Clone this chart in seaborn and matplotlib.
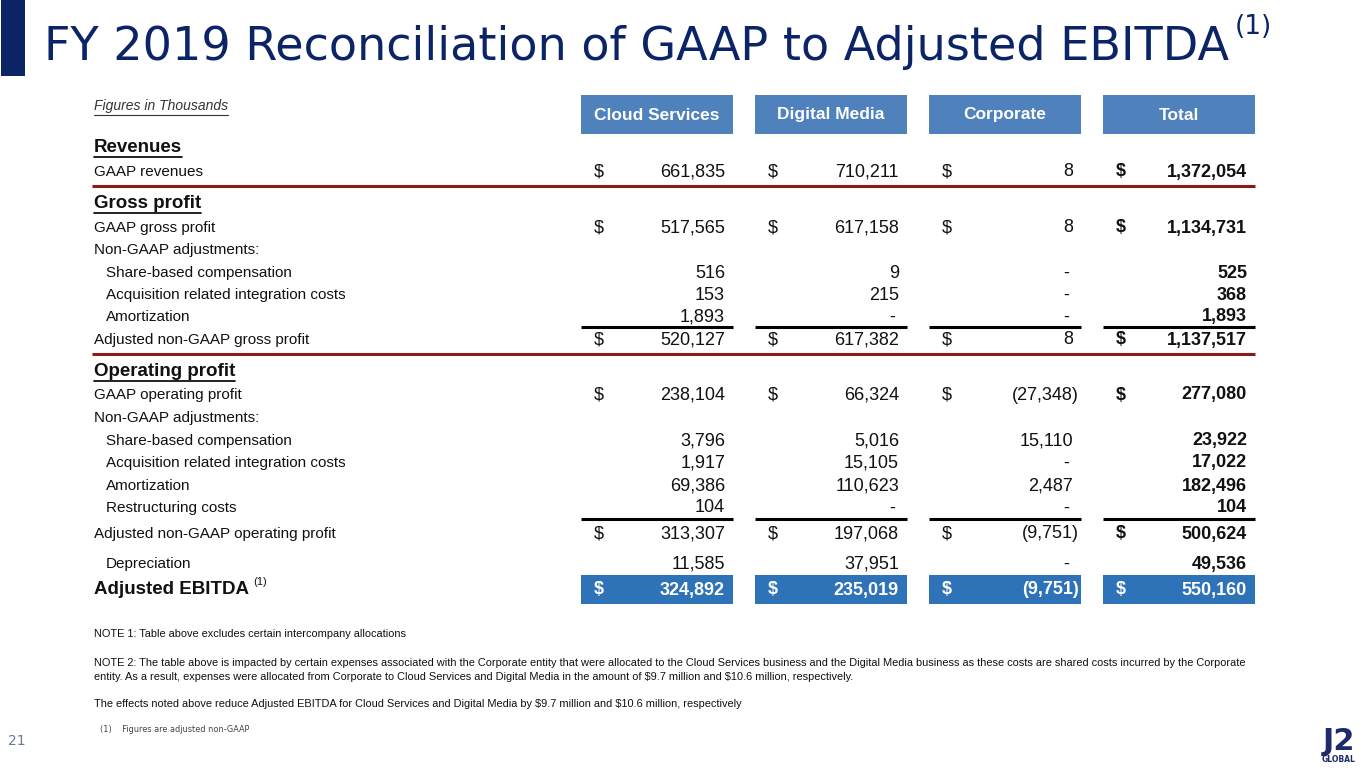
import matplotlib
matplotlib.use("Agg")
import matplotlib.pyplot as plt
import seaborn as sns
from matplotlib.patches import Rectangle

# datos de la tabla (miles de USD)
columnas = ["Cloud Services", "Digital Media", "Corporate", "Total"]

filas = ["Revenues", "GAAP revenues", "Gross profit", "GAAP gross profit",
         "Non-GAAP adjustments:", "Share-based compensation",
         "Acquisition related integration costs", "Amortization",
         "Adjusted non-GAAP gross profit", "Operating profit",
         "GAAP operating profit", "Non-GAAP adjustments:",
         "Share-based compensation", "Acquisition related integration costs",
         "Amortization", "Restructuring costs",
         "Adjusted non-GAAP operating profit", "Depreciation", "Adjusted EBITDA"]

cloud_services = [None, 661835, None, 517565, None, 516, 153, 1893, 520127, None,
                  238104, None, 3796, 1917, 69386, 104, 313307, 11585, 324892]
digital_media = [None, 710211, None, 617158, None, 9, 215, 0, 617382, None,
                 66324, None, 5016, 15105, 110623, 0, 197068, 37951, 235019]
corporate = [None, 8, None, 8, None, 0, 0, 0, 8, None,
             -27348, None, 15110, 0, 2487, 0, -9751, 0, -9751]
total = [None, 1372054, None, 1134731, None, 525, 368, 1893, 1137517, None,
         277080, None, 23922, 17022, 182496, 104, 500624, 49536, 550160]

secciones = ["Revenues", "Gross profit", "Operating profit"]
filas_dolar = ["GAAP revenues", "GAAP gross profit", "Adjusted non-GAAP gross profit",
               "GAAP operating profit", "Adjusted non-GAAP operating profit", "Adjusted EBITDA"]
sangria = ["Share-based compensation", "Acquisition related integration costs",
           "Amortization", "Restructuring costs", "Depreciation"]

notas = [
    "NOTE 1: Table above excludes certain intercompany allocations",
    "NOTE 2: The table above is impacted by certain expenses associated with the Corporate entity that were allocated to the Cloud Services business and the Digital Media business as these costs are shared costs incurred by the Corporate",
    "entity. As a result, expenses were allocated from Corporate to Cloud Services and Digital Media in the amount of $9.7 million and $10.6 million, respectively.",
    "The effects noted above reduce Adjusted EBITDA for Cloud Services and Digital Media by $9.7 million and $10.6 million, respectively",
]

# posiciones (pixeles)
y_filas = [147, 172, 203, 228, 250, 273, 295, 317, 340, 371, 395, 418,
           441, 463, 486, 508, 534, 564, 590]
col_izq = [581, 755, 929, 1103]
ancho_col = 152
y_notas = [634, 663, 677, 704]

sns.set_theme(style="white")
plt.rcParams['font.family'] = ['Liberation Sans', 'DejaVu Sans']

fig = plt.figure(figsize=(13.65, 7.68), dpi=100)
ax = fig.add_axes([0, 0, 1, 1])
ax.set_xlim(0, 1365)
ax.set_ylim(768, 0)
ax.axis("off")

azul_marino = "#0b2466"
azul_cab = "#4f81bd"
azul_ebitda = "#2e72b8"
rojo = "#8b1a1a"
negro = "#111111"


def texto(x, y, s, **kw):
    return ax.text(x, y, s, parse_math=False, **kw)


def subrayar(t, dy=3, lw=1.0, color=negro):
    fig.canvas.draw()
    bb = t.get_window_extent().transformed(ax.transData.inverted())
    ax.plot([bb.x0, bb.x1], [bb.y0 + dy, bb.y0 + dy], color=color, lw=lw)


def fmt(v):
    if v == 0:
        return "-"
    if v < 0:
        return f"({-v:,})"
    return f"{v:,}"


# barra lateral y titulo
ax.add_patch(Rectangle((1, 0), 24, 76, color=azul_marino, lw=0))
texto(44, 48, "FY 2019 Reconciliation of GAAP to Adjusted EBITDA", fontsize=33.2,
      family="DejaVu Sans", color=azul_marino, va="center", ha="left")
texto(1235, 27, "(1)", fontsize=19, family="DejaVu Sans", color=azul_marino,
      va="center", ha="left")

t = texto(94, 106, "Figures in Thousands", fontsize=10, style="italic",
          color="#333333", va="center")
subrayar(t, dy=2, lw=0.8, color="#333333")

# cabeceras
for nombre, x0 in zip(columnas, col_izq):
    ax.add_patch(Rectangle((x0, 95), ancho_col, 39, color=azul_cab, lw=0))
    texto(x0 + ancho_col / 2, 115, nombre, fontsize=12.5, fontweight="bold",
          color="white", ha="center", va="center")

valores = [cloud_services, digital_media, corporate, total]

for i, (fila, y) in enumerate(zip(filas, y_filas)):
    if fila in secciones:
        t = texto(94, y, fila, fontsize=13.5, fontweight="bold", color=negro, va="center")
        subrayar(t, dy=1, lw=1.3)
        continue
    if fila == "Adjusted EBITDA":
        texto(94, y, fila, fontsize=13.5, fontweight="bold", color=negro, va="center")
        texto(253, y - 8, "(1)", fontsize=8, color=negro, va="center")
    else:
        x = 106 if fila in sangria else 94
        texto(x, y, fila, fontsize=11, color=negro, va="center")

    for j, serie in enumerate(valores):
        v = serie[i]
        if v is None:
            continue
        x0 = col_izq[j]
        der = x0 + ancho_col - 8
        color = negro
        peso = "bold" if j == 3 else "normal"
        if fila == "Adjusted EBITDA":
            ax.add_patch(Rectangle((x0, y - 15), ancho_col, 29, color=azul_ebitda, lw=0))
            color = "white"
            peso = "bold"
        if fila in filas_dolar:
            texto(x0 + 13, y, "$", fontsize=13, color=color, fontweight=peso, va="center")
        s = fmt(v)
        xr = der + 6 if v < 0 else (der - 4 if v == 0 else der)
        texto(xr, y, s, fontsize=13, color=color, fontweight=peso, va="center", ha="right")

# lineas rojas y negras
for y in [186, 354]:
    ax.plot([92, 1255], [y, y], color=rojo, lw=2.2, solid_capstyle="butt")
for y in [327, 519]:
    for x0 in col_izq:
        ax.plot([x0, x0 + ancho_col], [y, y], color="black", lw=2.2, solid_capstyle="butt")

# notas
for s, y in zip(notas, y_notas):
    texto(94, y, s, fontsize=7.95, color=negro, va="center")
texto(100, 729, "(1)    Figures are adjusted non-GAAP", fontsize=5.9,
      family="DejaVu Sans", color="#444444", va="center")
texto(8, 741, "21", fontsize=10, family="DejaVu Sans", color="#6b7a99", va="center")

# logo
texto(1339, 742, "J2", fontsize=22, fontweight="heavy", family="DejaVu Sans",
      color="#1d2a6b", ha="center", va="center")
texto(1339, 759, "GLOBAL", fontsize=5.5, fontweight="bold", family="DejaVu Sans",
      color="#1d2a6b", ha="center", va="center")

plt.savefig("out.png", dpi=100)
